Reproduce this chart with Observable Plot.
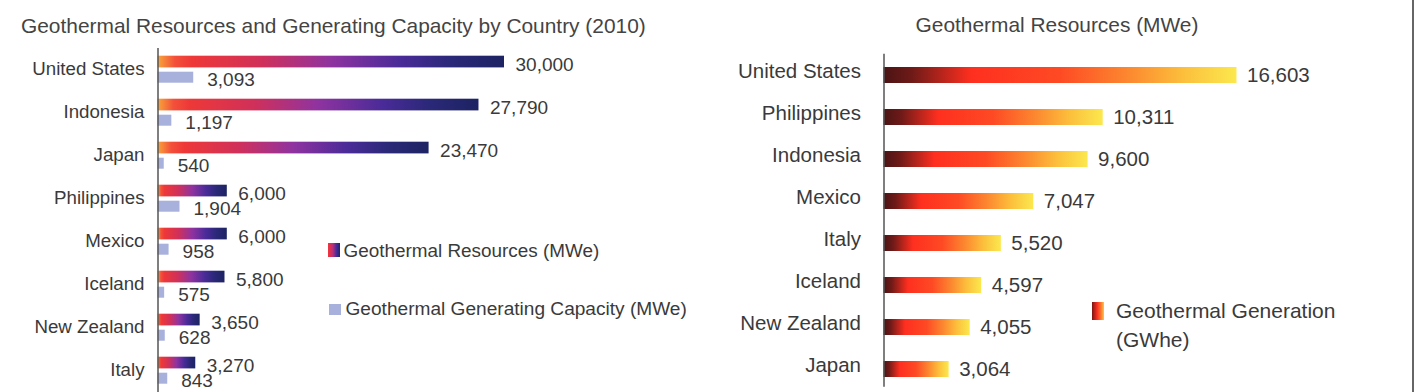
<!DOCTYPE html>
<html>
<head>
<meta charset="utf-8">
<script src="https://cdn.jsdelivr.net/npm/d3@7"></script>
<script src="https://cdn.jsdelivr.net/npm/@observablehq/plot@0.6"></script>
<style>
  html, body { margin: 0; padding: 0; background: #fff; }
  #wrap { position: relative; width: 1416px; height: 392px; overflow: hidden; background: #fff;
          font-family: "Liberation Sans", Arial, Helvetica, sans-serif; color: #3a3a3a; }
  .abs { position: absolute; white-space: nowrap; }
  .panel { position: absolute; top: 0; }
</style>
</head>
<body>
<div id="wrap">
  <div class="abs" id="titleL" style="left:21px; top:10.5px; line-height:30px; font-size:20.9px; color:#444;">Geothermal Resources and Generating Capacity by Country (2010)</div>
  <div class="abs" id="titleR" style="left:857px; width:400px; text-align:center; top:10px; line-height:30px; font-size:20.9px; color:#444;">Geothermal Resources (MWe)</div>
  <div class="panel" id="left" style="left:0px;"></div>
  <div class="panel" id="right" style="left:700px;"></div>

  <div class="abs" style="left:328.3px; top:243.3px; width:11.7px; height:13.4px; background:linear-gradient(to right,#f4343a 0%,#b8307a 40%,#4a2a9a 70%,#1e2566 100%);"></div>
  <div class="abs" style="left:343.5px; top:238.8px; line-height:24px; font-size:18.9px;">Geothermal Resources (MWe)</div>
  <div class="abs" style="left:329px; top:304px; width:11.7px; height:11px; background:#a8b0dc;"></div>
  <div class="abs" style="left:345.5px; top:297px; line-height:24px; font-size:19.1px;">Geothermal Generating Capacity (MWe)</div>

  <div class="abs" style="left:1092.3px; top:302px; width:12px; height:18px; background:linear-gradient(to right,#7a1512 0%,#ff3020 45%,#fd7a2e 75%,#fcc840 100%);"></div>
  <div class="abs" style="left:1116px; top:296px; line-height:29.4px; font-size:21px;">Geothermal Generation<br>(GWhe)</div>

  <div class="abs" style="left:1412px; top:0; width:2px; height:392px; background:#666;"></div>
</div>
<script>
// ---- data ----
const countriesL = ["United States","Indonesia","Japan","Philippines","Mexico","Iceland","New Zealand","Italy"];
const resourcesMWe = [30000,27790,23470,6000,6000,5800,3650,3270];
const capacityMWe = [3093,1197,540,1904,958,575,628,843];

const countriesR = ["United States","Philippines","Indonesia","Mexico","Italy","Iceland","New Zealand","Japan"];
const generationGWhe = [16603,10311,9600,7047,5520,4597,4055,3064];

const fmt = d3.format(",");
const FONT = '"Liberation Sans", Arial, Helvetica, sans-serif';

const leftRows = countriesL.map((c, i) => ({country: c, resources: resourcesMWe[i], capacity: capacityMWe[i]}));
const rightRows = countriesR.map((c, i) => ({country: c, generation: generationGWhe[i]}));

function addGradient(svg, id, stops) {
  let defs = d3.select(svg).select("defs");
  if (defs.empty()) defs = d3.select(svg).insert("defs", ":first-child");
  const g = defs.append("linearGradient").attr("id", id)
    .attr("x1", "0").attr("x2", "1").attr("y1", "0").attr("y2", "0");
  for (const [o, c] of stops) g.append("stop").attr("offset", o).attr("stop-color", c);
}

// ---- left chart ----
const svgL = Plot.plot({
  width: 700,
  height: 392,
  marginLeft: 157.5,
  marginRight: 80.5,
  marginTop: 46,
  marginBottom: 0,
  style: {fontFamily: FONT, color: "#3a3a3a", background: "transparent", fontSize: "18.5px"},
  x: {domain: [0, 40000], axis: null},
  y: {domain: countriesL, padding: 0, axis: null},
  marks: [
    Plot.barX(leftRows, {x: "resources", y: "country", fill: "url(#gradRes)", insetTop: 8.7, insetBottom: 22.6}),
    Plot.barX(leftRows, {x: "capacity", y: "country", fill: "#a8b0dc", insetTop: 24.7, insetBottom: 7.3}),
    Plot.text(leftRows, {x: "resources", y: "country", text: d => fmt(d.resources), textAnchor: "start", dx: 11, dy: -4, fontSize: 19, fill: "#3a3a3a"}),
    Plot.text(leftRows, {x: "capacity", y: "country", text: d => fmt(d.capacity), textAnchor: "start", dx: 13.5, dy: 10.7, fontSize: 19, fill: "#3a3a3a"}),
    Plot.axisY({tickSize: 0, tickPadding: 13.5, label: null, fontSize: 18.7}),
    Plot.ruleX([0], {stroke: "#555", strokeWidth: 1.5, insetTop: 2})
  ]
});
addGradient(svgL, "gradRes", [
  [0, "#f9a53a"], [0.05, "#f3503a"], [0.1, "#ee3838"], [0.3, "#d0305a"],
  [0.5, "#8f33a0"], [0.7, "#4a2b98"], [0.85, "#2a2878"], [1, "#1d2362"]
]);
document.getElementById("left").appendChild(svgL);

// ---- right chart ----
const svgR = Plot.plot({
  width: 716,
  height: 392,
  marginLeft: 183.5,
  marginRight: 107.3,
  marginTop: 53.7,
  marginBottom: 2.3,
  style: {fontFamily: FONT, color: "#3a3a3a", background: "transparent", fontSize: "20.5px"},
  x: {domain: [0, 20000], axis: null},
  y: {domain: countriesR, padding: 0, axis: null},
  marks: [
    Plot.barX(rightRows, {x: "generation", y: "country", fill: "url(#gradGen)", insetTop: 13, insetBottom: 13}),
    Plot.text(rightRows, {x: "generation", y: "country", text: d => fmt(d.generation), textAnchor: "start", dx: 10, dy: 0, fontSize: 20.5, fill: "#3a3a3a"}),
    Plot.axisY({tickSize: 0, tickPadding: 23, label: null, fontSize: 20.5, dy: -4}),
    Plot.ruleX([0], {stroke: "#555", strokeWidth: 1.5, insetBottom: 3})
  ]
});
addGradient(svgR, "gradGen", [
  [0, "#4a1414"], [0.08, "#6e1a18"], [0.25, "#ff2f1f"], [0.5, "#fe4a24"],
  [0.7, "#fc8a30"], [0.85, "#fcbf3c"], [1, "#fbe84e"]
]);
document.getElementById("right").appendChild(svgR);
</script>
</body>
</html>
